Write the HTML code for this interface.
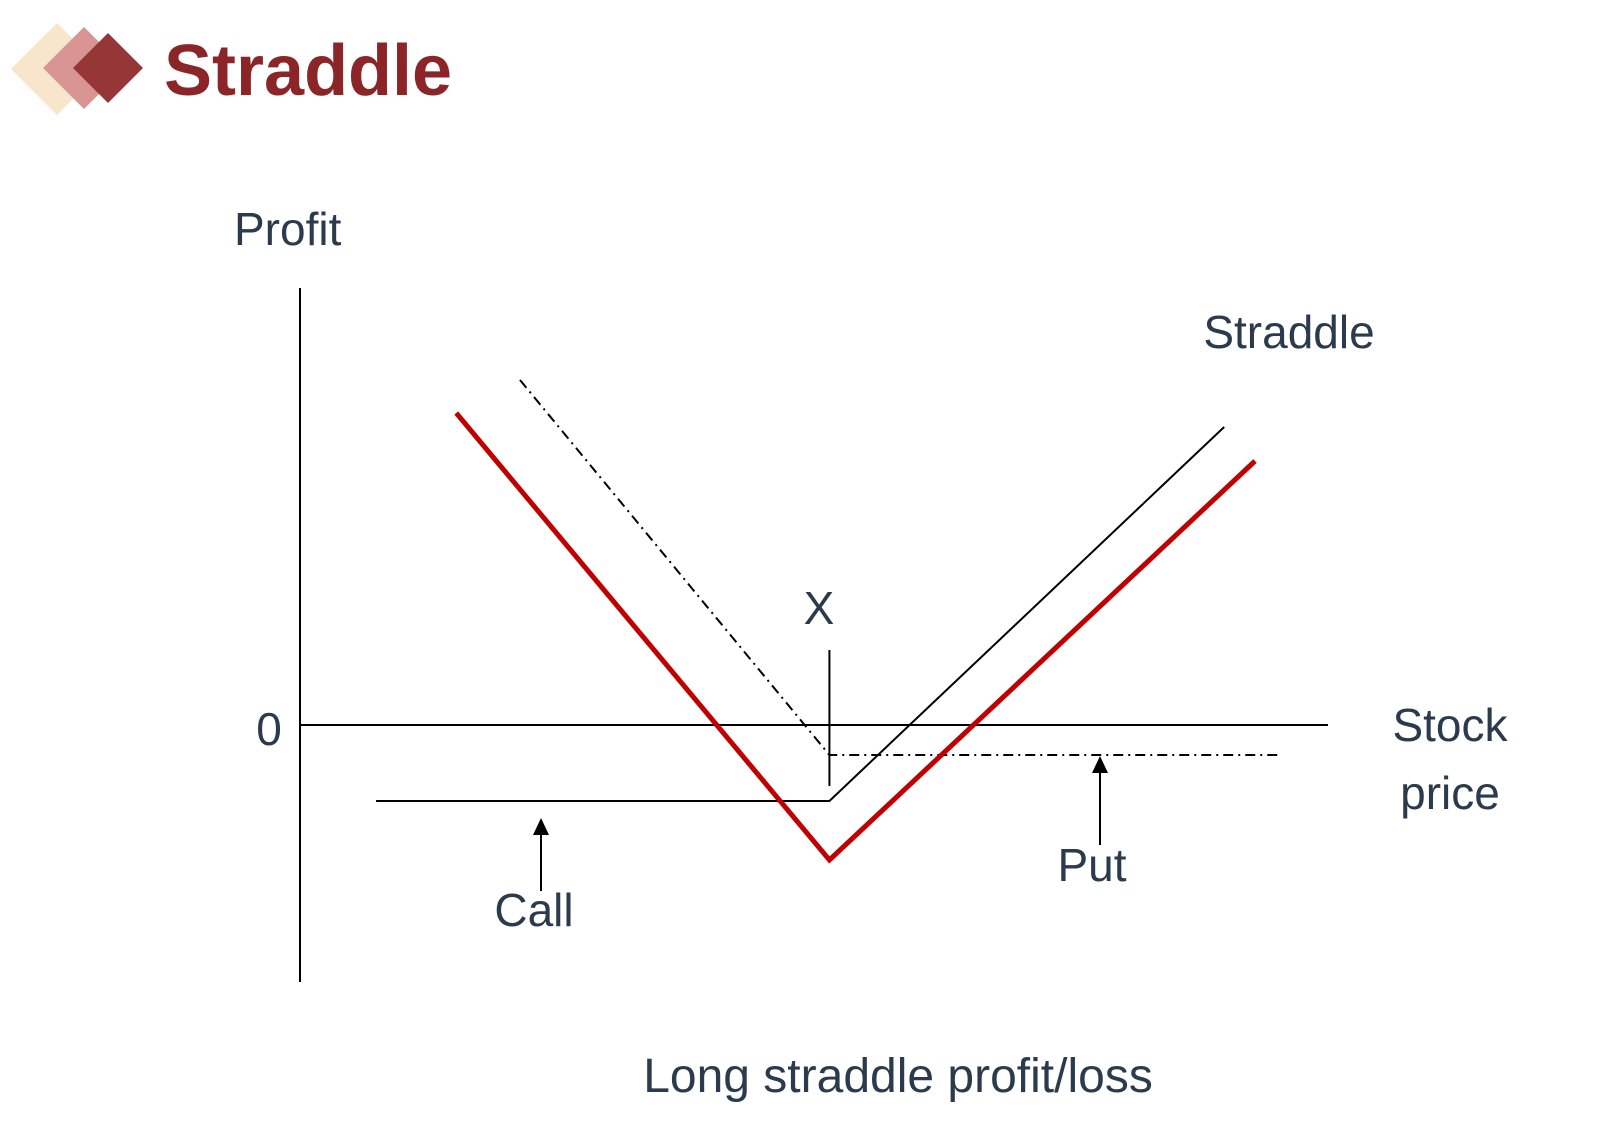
<!DOCTYPE html>
<html><head><meta charset="utf-8"><style>
body{margin:0;background:#fff;width:1622px;height:1141px;overflow:hidden}
svg text{font-family:"Liberation Sans",sans-serif;fill:#2b3a4c}
</style></head><body>
<svg width="1622" height="1141">
<g>
<polygon points="57,23 103,69 57,115 11,69" fill="#f8e6cc"/>
<polygon points="84,27 125,68 84,109 43,68" fill="#d99593"/>
<polygon points="108,33 143,68 108,103 73,68" fill="#963637"/>
</g>
<text x="164" y="95" font-size="72" font-weight="bold" style="fill:#8b2528">Straddle</text>
<g id="plot"></g>
<text x="234" y="245" font-size="46">Profit</text>
<text x="269" y="745" font-size="46" text-anchor="middle">0</text>
<text x="1450" y="741" font-size="46" text-anchor="middle">Stock</text>
<text x="1450" y="809" font-size="46" text-anchor="middle">price</text>
<text x="1289" y="348" font-size="46" text-anchor="middle">Straddle</text>
<text x="819" y="624" font-size="46" text-anchor="middle">X</text>
<text x="1092" y="881" font-size="46" text-anchor="middle">Put</text>
<text x="534" y="926" font-size="46" text-anchor="middle">Call</text>
<text x="898" y="1092" font-size="48" text-anchor="middle">Long straddle profit/loss</text>
</svg>
<script>
// stock price (0-100 scale) and profit values
const strike = 51.5;
const callX = [7.4, 51.5, 89.9];
const callY = [-7.6, -7.6, 29.8];
const putX = [21.4, 51.5, 95.2];
const putY = [34.5, -3.0, -3.0];
const straddleX = [15.2, 51.5, 92.9];
const straddleY = [31.2, -13.5, 26.4];
const axisPriceMax = 100;
const X0 = 300, X1 = 1328, Y0 = 725;
function sx(p){return X0 + p/axisPriceMax*(X1-X0);}
function sy(v){return Y0 - v*10;}
const g=document.getElementById('plot');
const NS='http://www.w3.org/2000/svg';
function line(pts,attrs,name){
  const el=document.createElementNS(NS,'polyline');
  el.setAttribute('points',pts.map(p=>p.join(',')).join(' '));
  el.setAttribute('fill','none');
  for(const k in attrs) el.setAttribute(k,attrs[k]);
  
  
  g.appendChild(el);
}
function pts(xs,ys){return xs.map((x,i)=>[sx(x),sy(ys[i])]);}
line([[X0,288],[X0,982]],{stroke:'#000','stroke-width':2},'y-axis');
line([[X0,Y0],[X1,Y0]],{stroke:'#000','stroke-width':2},'x-axis');
line([[sx(strike),650],[sx(strike),786]],{stroke:'#000','stroke-width':2},'strike-tick');
line(pts(callX,callY),{stroke:'#000','stroke-width':2},'call-line');
line(pts(putX,putY),{stroke:'#000','stroke-width':2,'stroke-dasharray':'10 5 2 5'},'put-line');
line(pts(straddleX,straddleY),{stroke:'#c00000','stroke-width':5},'straddle-line');
function arrow(x,y1,y2,name){
  line([[x,y1],[x,y2+14]],{stroke:'#000','stroke-width':2},name);
  const t=document.createElementNS(NS,'polygon');
  t.setAttribute('points',`${x-8},${y2+17} ${x+8},${y2+17} ${x},${y2}`);
  
  
  g.appendChild(t);
}
arrow(1100,845,sy(putY[2])+1,'put-arrow');
arrow(541,891,818,'call-arrow');
</script>
</body></html>
